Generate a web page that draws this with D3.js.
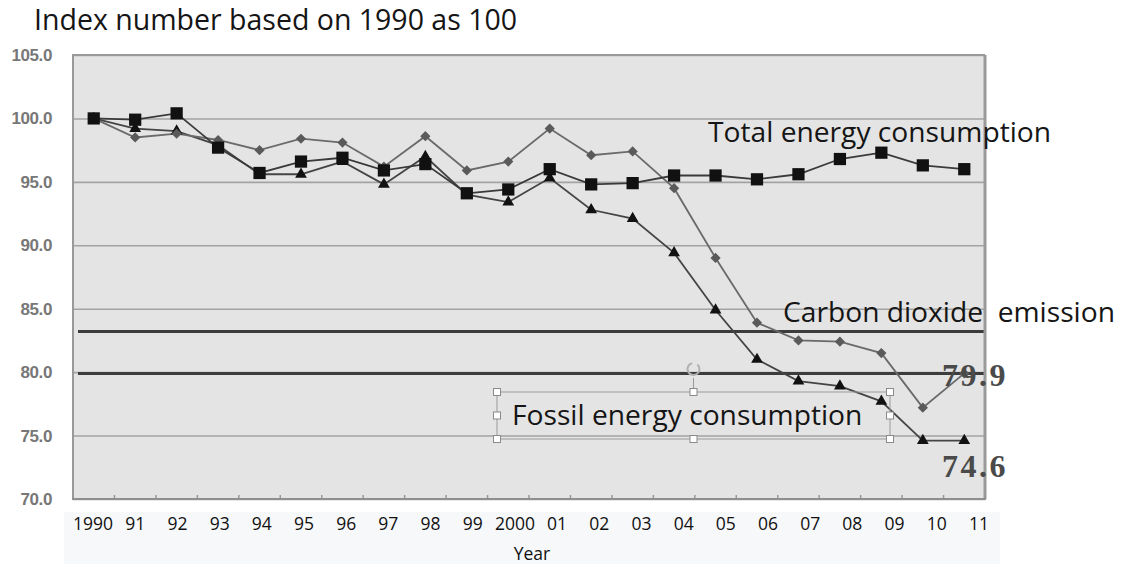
<!DOCTYPE html>
<html>
<head>
<meta charset="utf-8">
<script src="https://cdn.jsdelivr.net/npm/d3@7"></script>
<style>
  html, body { margin: 0; padding: 0; background: #fff; }
  svg { display: block; }
  text { white-space: pre; }
</style>
</head>
<body>
<svg id="chart" width="1122" height="564"></svg>
<script>
// Index numbers, 1990 = 100
const years = ['1990', '91', '92', '93', '94', '95', '96', '97', '98', '99', '2000',
  '01', '02', '03', '04', '05', '06', '07', '08', '09', '10', '11'];
const totalEnergy = [100.0, 99.9, 100.4, 97.7, 95.7, 96.6, 96.9, 95.9, 96.4, 94.1, 94.4,
  96.0, 94.8, 94.9, 95.5, 95.5, 95.2, 95.6, 96.8, 97.3, 96.3, 96.0];
const co2Emission = [100.0, 98.5, 98.8, 98.3, 97.5, 98.4, 98.1, 96.2, 98.6, 95.9, 96.6,
  99.2, 97.1, 97.4, 94.5, 89.0, 83.9, 82.5, 82.4, 81.5, 77.2, 79.9];
const fossilEnergy = [100.0, 99.2, 99.0, 97.9, 95.6, 95.6, 96.6, 94.8, 97.0, 94.0, 93.4,
  95.3, 92.8, 92.1, 89.4, 84.9, 81.0, 79.3, 78.9, 77.7, 74.6, 74.6];
const yTicks = [70, 75, 80, 85, 90, 95, 100, 105];
const refLines = [83.2, 79.9];

const svg = d3.select('#chart');
const margin = {left: 73, right: 985, top: 55, bottom: 499};

const x = d3.scaleBand().domain(years).range([margin.left, margin.right]);
const y = d3.scaleLinear().domain([70, 105]).range([margin.bottom, margin.top]);
// the year labels sit in a separate strip that is slightly wider than the plot
const xLabel = d3.scaleBand().domain(years).range([72, 1000]);

// plot background
svg.append('rect')
  .attr('x', margin.left).attr('y', margin.top)
  .attr('width', margin.right - margin.left)
  .attr('height', margin.bottom - margin.top)
  .attr('fill', '#e4e4e4');

// horizontal gridlines + y labels
const yAxis = d3.axisLeft(y)
  .tickValues(yTicks)
  .tickFormat(d3.format('.1f'))
  .tickSize(0)
  .tickPadding(21);

svg.append('g')
  .attr('transform', `translate(${margin.left},0)`)
  .call(yAxis)
  .call(g => g.select('.domain').remove())
  .call(g => g.selectAll('.tick text')
    .attr('fill', '#777')
    .attr('font-family', 'Liberation Sans, Arial, sans-serif')
    .attr('font-weight', 'bold')
    .attr('font-size', 17)
    .attr('letter-spacing', -0.4))
  .call(g => g.selectAll('.tick line').clone()
    .attr('x2', margin.right - margin.left)
    .attr('stroke', '#a3a3a3')
    .attr('stroke-width', 1.6));

// reference lines
svg.selectAll('.ref')
  .data(refLines)
  .enter()
  .append('line')
  .attr('x1', margin.left + 5)
  .attr('x2', margin.right)
  .attr('y1', d => y(d))
  .attr('y2', d => y(d))
  .attr('stroke', '#3c3c3c')
  .attr('stroke-width', 3);

// frame
svg.append('path')
  .attr('d', `M${margin.left},${margin.bottom}V${margin.top}H${margin.right}`)
  .attr('fill', 'none')
  .attr('stroke', '#999')
  .attr('stroke-width', 2);
svg.append('line')
  .attr('x1', margin.right).attr('x2', margin.right)
  .attr('y1', margin.top).attr('y2', margin.bottom)
  .attr('stroke', '#9a9a9a')
  .attr('stroke-width', 3);

// bottom axis, ticks on category boundaries
svg.append('g')
  .attr('transform', `translate(${x.step() / 2},${margin.bottom})`)
  .call(d3.axisBottom(x).tickSize(-4).tickFormat(''))
  .call(g => g.select('.domain').remove())
  .call(g => g.selectAll('.tick line').attr('stroke', '#999').attr('stroke-width', 1.5));
svg.append('line')
  .attr('x1', margin.left - 1).attr('x2', margin.right + 1)
  .attr('y1', margin.bottom).attr('y2', margin.bottom)
  .attr('stroke', '#8f8f8f')
  .attr('stroke-width', 2);

// series
const series = [
  {name: 'fossil', values: fossilEnergy, stroke: '#444', symbol: d3.symbolTriangle, size: 60, fill: '#111', rotate: 0},
  {name: 'co2', values: co2Emission, stroke: '#6a6a6a', symbol: d3.symbolSquare, size: 52, fill: '#5a5a5a', rotate: 45},
  {name: 'total', values: totalEnergy, stroke: '#3a3a3a', symbol: d3.symbolSquare, size: 150, fill: '#111', rotate: 0},
];

const line = d3.line()
  .x((d, i) => x(years[i]) + x.bandwidth() / 2)
  .y(d => y(d));

series.forEach(s => {
  svg.append('path')
    .attr('d', line(s.values))
    .attr('fill', 'none')
    .attr('stroke', s.stroke)
    .attr('stroke-width', 1.8);
});
series.forEach(s => {
  svg.selectAll(`.m-${s.name}`)
    .data(s.values)
    .enter()
    .append('path')
    .attr('transform', (d, i) =>
      `translate(${x(years[i]) + x.bandwidth() / 2},${y(d)}) rotate(${s.rotate})`)
    .attr('d', d3.symbol(s.symbol, s.size))
    .attr('fill', s.fill);
});

// year label strip
svg.append('rect')
  .attr('x', 64).attr('y', 512)
  .attr('width', 936).attr('height', 52)
  .attr('fill', '#f7f8fa');

svg.append('g')
  .attr('transform', 'translate(0,512)')
  .call(d3.axisBottom(xLabel).tickSize(0).tickPadding(6))
  .call(g => g.select('.domain').remove())
  .call(g => g.selectAll('.tick text')
    .attr('fill', '#111')
    .attr('font-family', 'Open Sans, sans-serif')
    .attr('font-size', 17.5));

svg.append('text')
  .attr('x', 532).attr('y', 560)
  .attr('text-anchor', 'middle')
  .attr('font-family', 'Open Sans, sans-serif')
  .attr('font-size', 17.5)
  .attr('fill', '#111')
  .text('Year');

// title
svg.append('text')
  .attr('x', 34).attr('y', 30)
  .attr('font-family', 'Open Sans, sans-serif')
  .attr('font-size', 28.5)
  .attr('fill', '#151515')
  .text('Index number based on 1990 as 100');

// series annotations
const annoFont = g => g
  .attr('font-family', 'Open Sans, sans-serif')
  .attr('font-size', 28.2)
  .attr('fill', '#151515');

svg.append('text').call(annoFont)
  .attr('x', 708).attr('y', 142)
  .text('Total energy consumption');
svg.append('text').call(annoFont)
  .attr('x', 783).attr('y', 322)
  .text('Carbon dioxide  emission');

// text box with selection handles around the fossil label
const box = {x0: 497, x1: 890, y0: 392, y1: 439};
const bx = (box.x0 + box.x1) / 2, by = (box.y0 + box.y1) / 2;
svg.append('rect')
  .attr('x', box.x0).attr('y', box.y0)
  .attr('width', box.x1 - box.x0).attr('height', box.y1 - box.y0)
  .attr('fill', 'none')
  .attr('stroke', '#9a9a9a')
  .attr('stroke-width', 1);
svg.append('line')
  .attr('x1', bx).attr('x2', bx)
  .attr('y1', box.y0).attr('y2', box.y0 - 14)
  .attr('stroke', '#9a9a9a');
svg.append('path')
  .attr('d', d3.arc()({innerRadius: 5, outerRadius: 7, startAngle: 0.7, endAngle: 2 * Math.PI - 0.2}))
  .attr('transform', `translate(${bx},${box.y0 - 23})`)
  .attr('fill', '#b0b0b0');
svg.selectAll('.handle')
  .data([[box.x0, box.y0], [bx, box.y0], [box.x1, box.y0], [box.x0, by], [box.x1, by],
    [box.x0, box.y1], [bx, box.y1], [box.x1, box.y1]])
  .enter()
  .append('rect')
  .attr('x', d => d[0] - 3.5).attr('y', d => d[1] - 3.5)
  .attr('width', 7).attr('height', 7)
  .attr('fill', '#fff')
  .attr('stroke', '#8a8a8a')
  .attr('stroke-width', 1);

svg.append('text').call(annoFont)
  .attr('x', 512).attr('y', 425)
  .text('Fossil energy consumption');

// end values
const endFont = g => g
  .attr('font-family', 'Liberation Serif, Times New Roman, serif')
  .attr('font-weight', 'bold')
  .attr('font-size', 32)
  .attr('fill', '#4a4a4a')
  .attr('letter-spacing', 2.5);
svg.append('text').call(endFont)
  .attr('x', 942).attr('y', y(co2Emission[21]) + 13)
  .text(d3.format('.1f')(co2Emission[21]));
svg.append('text').call(endFont)
  .attr('x', 942).attr('y', y(fossilEnergy[21]) + 36)
  .text(d3.format('.1f')(fossilEnergy[21]));
</script>
</body>
</html>
